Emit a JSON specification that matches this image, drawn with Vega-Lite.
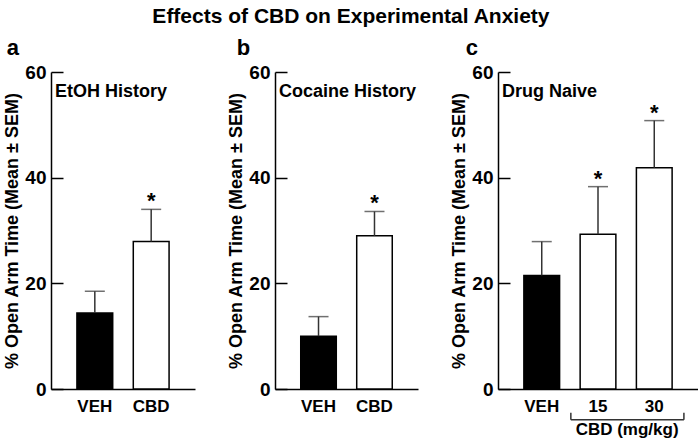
{
  "$schema": "https://vega.github.io/schema/vega-lite/v6.json",
  "padding": {"left": 3, "top": 6, "right": 0, "bottom": 0},
  "title": {"text": "Effects of CBD on Experimental Anxiety", "fontSize": 21, "anchor": "middle", "offset": -7, "baseline": "alphabetic"},
  "config": {
    "font": "Liberation Sans",
    "view": {"stroke": null},
    "axis": {"domainColor": "black", "domainWidth": 1.5, "tickColor": "black", "tickWidth": 1.5, "labelColor": "black", "titleColor": "black", "labelFontWeight": "bold", "titleFontWeight": "bold", "grid": false, "labelFont": "Liberation Sans", "titleFont": "Liberation Sans"},
    "axisY": {"tickSize": -12, "labelPadding": 17, "labelFontSize": 19, "titleFontSize": 18, "titlePadding": 3, "tickCount": 3},
    "axisX": {"ticks": false, "labelAngle": 0, "labelFontSize": 17, "labelPadding": 9},
    "title": {"font": "Liberation Sans", "fontWeight": "bold", "color": "black"},
    "concat": {"spacing": 32}
  },
  "hconcat": [
    {
      "title": {"text": "a", "anchor": "start", "frame": "bounds", "fontSize": 22, "offset": -14, "dx": 3, "baseline": "alphabetic"},
      "hconcat": [
        {
          "title": {"text": "EtOH History", "anchor": "start", "frame": "group", "fontSize": 18, "offset": -52, "dx": 4, "baseline": "alphabetic"},
          "width": 144,
          "height": 317,
          "data": {"values": [
            {"group": "VEH", "treatment": "VEH", "mean": 14.4, "upper": 18.5, "sig": ""},
            {"group": "CBD", "treatment": "CBD", "mean": 27.9, "upper": 34.0, "sig": "*"}
          ]},
          "encoding": {"x": {"field": "group", "type": "nominal", "sort": null, "title": null, "scale": {"paddingInner": 0.365, "paddingOuter": 0.46}}},
          "layer": [
            {"mark": {"type": "bar", "stroke": "black", "strokeWidth": 1.5},
             "encoding": {"y": {"field": "mean", "type": "quantitative", "title": "% Open Arm Time (Mean ± SEM)", "scale": {"domain": [0, 60], "nice": false}},
                          "fill": {"field": "treatment", "type": "nominal", "scale": {"domain": ["VEH", "CBD"], "range": ["black", "white"]}, "legend": null}}},
            {"mark": {"type": "rule", "color": "#333", "strokeWidth": 1.5},
             "encoding": {"y": {"field": "mean", "type": "quantitative", "title": "% Open Arm Time (Mean ± SEM)", "scale": {"domain": [0, 60], "nice": false}}, "y2": {"field": "upper"}}},
            {"mark": {"type": "tick", "color": "#333", "thickness": 1.5, "size": 20},
             "encoding": {"y": {"field": "upper", "type": "quantitative", "title": "% Open Arm Time (Mean ± SEM)", "scale": {"domain": [0, 60], "nice": false}}}},
            {"mark": {"type": "text", "fontSize": 22, "fontWeight": "bold", "baseline": "alphabetic", "dy": -1, "color": "black"},
             "encoding": {"y": {"field": "upper", "type": "quantitative", "title": "% Open Arm Time (Mean ± SEM)", "scale": {"domain": [0, 60], "nice": false}}, "text": {"field": "sig"}}}
          ]
        }
      ]
    },
    {
      "title": {"text": "b", "anchor": "start", "frame": "bounds", "fontSize": 22, "offset": -14, "dx": 9, "baseline": "alphabetic"},
      "hconcat": [
        {
          "title": {"text": "Cocaine History", "anchor": "start", "frame": "group", "fontSize": 18, "offset": -52, "dx": 4, "baseline": "alphabetic"},
          "width": 143,
          "height": 317,
          "data": {"values": [
            {"group": "VEH", "treatment": "VEH", "mean": 10.0, "upper": 13.7, "sig": ""},
            {"group": "CBD", "treatment": "CBD", "mean": 29.0, "upper": 33.6, "sig": "*"}
          ]},
          "encoding": {"x": {"field": "group", "type": "nominal", "sort": null, "title": null, "scale": {"paddingInner": 0.365, "paddingOuter": 0.46}}},
          "layer": [
            {"mark": {"type": "bar", "stroke": "black", "strokeWidth": 1.5},
             "encoding": {"y": {"field": "mean", "type": "quantitative", "title": "% Open Arm Time (Mean ± SEM)", "scale": {"domain": [0, 60], "nice": false}},
                          "fill": {"field": "treatment", "type": "nominal", "scale": {"domain": ["VEH", "CBD"], "range": ["black", "white"]}, "legend": null}}},
            {"mark": {"type": "rule", "color": "#333", "strokeWidth": 1.5},
             "encoding": {"y": {"field": "mean", "type": "quantitative", "title": "% Open Arm Time (Mean ± SEM)", "scale": {"domain": [0, 60], "nice": false}}, "y2": {"field": "upper"}}},
            {"mark": {"type": "tick", "color": "#333", "thickness": 1.5, "size": 20},
             "encoding": {"y": {"field": "upper", "type": "quantitative", "title": "% Open Arm Time (Mean ± SEM)", "scale": {"domain": [0, 60], "nice": false}}}},
            {"mark": {"type": "text", "fontSize": 22, "fontWeight": "bold", "baseline": "alphabetic", "dy": -1, "color": "black"},
             "encoding": {"y": {"field": "upper", "type": "quantitative", "title": "% Open Arm Time (Mean ± SEM)", "scale": {"domain": [0, 60], "nice": false}}, "text": {"field": "sig"}}}
          ]
        }
      ]
    },
    {
      "title": {"text": "c", "anchor": "start", "frame": "bounds", "fontSize": 22, "offset": -14, "dx": 15, "baseline": "alphabetic"},
      "hconcat": [
        {
          "title": {"text": "Drug Naive", "anchor": "start", "frame": "group", "fontSize": 18, "offset": -52, "dx": 4, "baseline": "alphabetic"},
          "width": 200,
          "height": 317,
          "data": {"values": [
            {"group": "VEH", "treatment": "VEH", "mean": 21.5, "upper": 27.9, "sig": ""},
            {"group": "15", "treatment": "CBD", "mean": 29.3, "upper": 38.3, "sig": "*"},
            {"group": "30", "treatment": "CBD", "mean": 41.9, "upper": 50.8, "sig": "*"}
          ]},
          "encoding": {"x": {"field": "group", "type": "nominal", "sort": null, "title": null, "scale": {"domain": ["VEH", "15", "30"], "paddingInner": 0.365, "paddingOuter": 0.46}}},
          "layer": [
            {"mark": {"type": "bar", "stroke": "black", "strokeWidth": 1.5},
             "encoding": {"y": {"field": "mean", "type": "quantitative", "title": "% Open Arm Time (Mean ± SEM)", "scale": {"domain": [0, 60], "nice": false}},
                          "fill": {"field": "treatment", "type": "nominal", "scale": {"domain": ["VEH", "CBD"], "range": ["black", "white"]}, "legend": null}}},
            {"mark": {"type": "rule", "color": "#333", "strokeWidth": 1.5},
             "encoding": {"y": {"field": "mean", "type": "quantitative", "title": "% Open Arm Time (Mean ± SEM)", "scale": {"domain": [0, 60], "nice": false}}, "y2": {"field": "upper"}}},
            {"mark": {"type": "tick", "color": "#333", "thickness": 1.5, "size": 20},
             "encoding": {"y": {"field": "upper", "type": "quantitative", "title": "% Open Arm Time (Mean ± SEM)", "scale": {"domain": [0, 60], "nice": false}}}},
            {"mark": {"type": "text", "fontSize": 22, "fontWeight": "bold", "baseline": "alphabetic", "dy": -1, "color": "black"},
             "encoding": {"y": {"field": "upper", "type": "quantitative", "title": "% Open Arm Time (Mean ± SEM)", "scale": {"domain": [0, 60], "nice": false}}, "text": {"field": "sig"}}},
            {"data": {"values": [{"from": "15", "to": "30", "label": "CBD (mg/kg)"}]},
             "mark": {"type": "rule", "color": "#333", "strokeWidth": 1.5},
             "encoding": {"x": {"field": "from", "type": "nominal", "sort": null, "title": null, "bandPosition": -0.26, "scale": {"domain": ["VEH", "15", "30"]}},
                          "x2": {"field": "to", "bandPosition": 1.33},
                          "y": {"datum": -5.8, "type": "quantitative", "title": "% Open Arm Time (Mean ± SEM)", "scale": {"domain": [0, 60], "nice": false}}}},
            {"data": {"values": [{"from": "15", "to": "30", "label": "CBD (mg/kg)"}]},
             "mark": {"type": "rule", "color": "#333", "strokeWidth": 1.5},
             "encoding": {"x": {"field": "from", "type": "nominal", "sort": null, "title": null, "bandPosition": -0.26, "scale": {"domain": ["VEH", "15", "30"]}},
                          "y": {"datum": -5.8, "type": "quantitative", "title": "% Open Arm Time (Mean ± SEM)", "scale": {"domain": [0, 60], "nice": false}},
                          "y2": {"datum": -4.5}}},
            {"data": {"values": [{"from": "15", "to": "30", "label": "CBD (mg/kg)"}]},
             "mark": {"type": "rule", "color": "#333", "strokeWidth": 1.5},
             "encoding": {"x": {"field": "to", "type": "nominal", "sort": null, "title": null, "bandPosition": 1.33, "scale": {"domain": ["VEH", "15", "30"]}},
                          "y": {"datum": -5.8, "type": "quantitative", "title": "% Open Arm Time (Mean ± SEM)", "scale": {"domain": [0, 60], "nice": false}},
                          "y2": {"datum": -4.5}}},
            {"data": {"values": [{"from": "15", "to": "30", "label": "CBD (mg/kg)"}]},
             "mark": {"type": "text", "fontSize": 17, "fontWeight": "bold", "baseline": "alphabetic", "color": "black"},
             "encoding": {"x": {"field": "to", "type": "nominal", "sort": null, "title": null, "bandPosition": -0.26, "scale": {"domain": ["VEH", "15", "30"]}},
                          "y": {"datum": -8.8, "type": "quantitative", "title": "% Open Arm Time (Mean ± SEM)", "scale": {"domain": [0, 60], "nice": false}},
                          "text": {"field": "label"}}}
          ]
        }
      ]
    }
  ]
}
